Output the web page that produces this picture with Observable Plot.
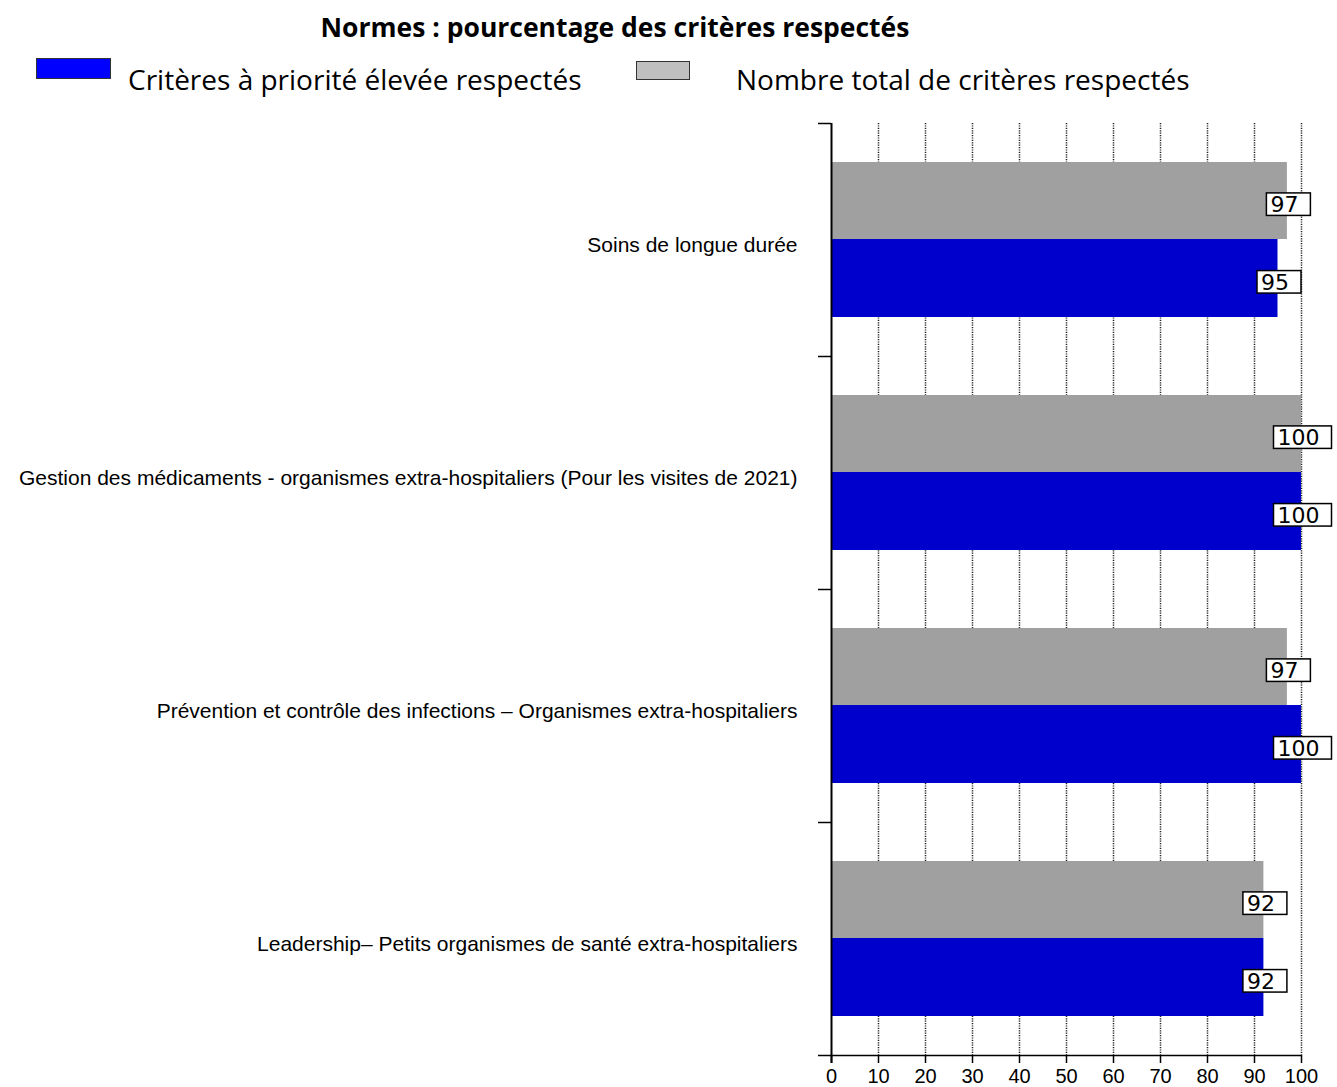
<!DOCTYPE html>
<html>
<head>
<meta charset="utf-8">
<script src="https://cdn.jsdelivr.net/npm/d3@7"></script>
<script src="https://cdn.jsdelivr.net/npm/@observablehq/plot@0.6"></script>
<style>
  html, body { margin: 0; padding: 0; background: #fff; }
  #wrap { position: relative; width: 1337px; height: 1087px; overflow: hidden; }
  #title { position: absolute; left: 0; top: 9px; width: 1230px; text-align: center;
           font-family: "Open Sans", sans-serif; font-weight: bold; font-size: 26.5px; color: #000; white-space: nowrap; }
  .sw { position: absolute; box-sizing: border-box; border: 1.5px solid #333; }
  .lt { position: absolute; font-family: "Open Sans", sans-serif; font-size: 28px; color: #000; white-space: nowrap; line-height: 1; }
  #chart { position: absolute; left: 0; top: 110px; }
</style>
</head>
<body>
<div id="wrap">
  <div id="title">Normes : pourcentage des critères respectés</div>
  <div class="sw" style="left:36px;top:58px;width:75px;height:21px;background:#0000FF"></div>
  <div class="lt" style="left:128px;top:65px">Critères à priorité élevée respectés</div>
  <div class="sw" style="left:636px;top:61px;width:54px;height:19px;background:#C0C0C0"></div>
  <div class="lt" style="left:736px;top:65px">Nombre total de critères respectés</div>
  <div id="chart"></div>
</div>
<script>
const categories = [
  "Soins de longue durée",
  "Gestion des médicaments - organismes extra-hospitaliers (Pour les visites de 2021)",
  "Prévention et contrôle des infections – Organismes extra-hospitaliers",
  "Leadership– Petits organismes de santé extra-hospitaliers"
];
const highPriority = [95, 100, 100, 92];
const totalMet = [97, 100, 97, 92];
const xTicks = [0, 10, 20, 30, 40, 50, 60, 70, 80, 90, 100];

const highData = categories.map((c, i) => ({category: c, value: highPriority[i]}));
const totalData = categories.map((c, i) => ({category: c, value: totalMet[i]}));

const BAND = (1087 - 110 - 13 - 32) / categories.length;

const labelStyle = {
  fontFamily: "DejaVu Sans", fontSize: 22, fill: "#000", textAnchor: "middle", dx: -3
};

const chart = Plot.plot({
  width: 1337,
  height: 977,
  marginTop: 13,
  marginBottom: 32,
  marginLeft: 831,
  marginRight: 36,
  style: {background: "#fff", overflow: "visible"},
  x: {domain: [0, 100], label: null},
  y: {domain: categories, padding: 0, label: null},
  marks: [
    Plot.ruleX(xTicks.filter(v => v > 0), {stroke: "#222", strokeWidth: 1.5, strokeDasharray: "1.2,1.2"}),
    Plot.barX(totalData, {y: "category", x: "value", fill: "#A0A0A0", insetTop: 39, insetBottom: 117}),
    Plot.barX(highData, {y: "category", x: "value", fill: "#0000CC", insetTop: 116, insetBottom: 39}),
    Plot.ruleX([0], {stroke: "#000", strokeWidth: 2, insetBottom: -8}),
    Plot.ruleY([categories[categories.length - 1]], {dy: BAND / 2, stroke: "#000", strokeWidth: 1.5}),
    Plot.axisY({ticks: categories, tickSize: 13, text: null, dy: -BAND / 2, stroke: "#000", strokeWidth: 1.5, label: null}),
    Plot.axisY({ticks: [categories[categories.length - 1]], tickSize: 13, text: null, dy: BAND / 2, stroke: "#000", strokeWidth: 1.5, label: null}),
    Plot.axisY({tickSize: 0, tickPadding: 34, dy: 5, fontSize: 21, fontFamily: "Liberation Sans, Arial, sans-serif", fill: "#000", label: null}),
    Plot.axisX({ticks: xTicks, tickSize: 8, tickPadding: 5, fontSize: 20, fontFamily: "Liberation Sans, Arial, sans-serif", fill: "#000", stroke: "#000", strokeWidth: 1.5, label: null}),
    Plot.text(totalData, {y: "category", x: "value", text: d => String(d.value), dy: -BAND / 6 + 4.2, ...labelStyle}),
    Plot.text(highData, {y: "category", x: "value", text: d => String(d.value), dy: BAND / 6 + 4.2, ...labelStyle})
  ]
});

document.getElementById("chart").append(chart);

// white boxes behind the value labels
chart.querySelectorAll('g[aria-label="text"] text').forEach(t => {
  const b = t.getBBox();
  const r = document.createElementNS("http://www.w3.org/2000/svg", "rect");
  r.setAttribute("x", b.x - 4);
  r.setAttribute("y", b.y + 0.5);
  r.setAttribute("width", b.width + 16);
  r.setAttribute("height", 22.5);
  r.setAttribute("fill", "#fff");
  r.setAttribute("stroke", "#000");
  r.setAttribute("stroke-width", 1.5);
  if (t.getAttribute("transform")) r.setAttribute("transform", t.getAttribute("transform"));
  t.parentNode.insertBefore(r, t);
});
</script>
</body>
</html>
